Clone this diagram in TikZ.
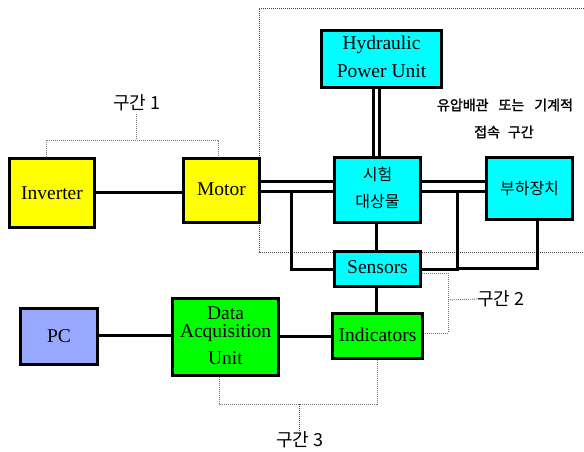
\documentclass[tikz,border=0pt]{standalone}
\usepackage{fontspec}
\setmainfont{Liberation Serif}
\newfontfamily\kr{Noto Sans CJK KR}
\newfontfamily\krb[FakeBold=1.5]{Noto Sans CJK KR}
\usetikzlibrary{calc}
\definecolor{cyanbox}{RGB}{0,255,255}
\definecolor{yellowbox}{RGB}{255,255,0}
\definecolor{greenbox}{RGB}{0,255,0}
\definecolor{pcbox}{RGB}{153,168,255}
\begin{document}
\begin{tikzpicture}[x=1pt,y=-1pt,
  box/.style={draw=black,line width=3pt,inner sep=0pt,align=center,font=\fontsize{19.5}{23}\selectfont},
  wire/.style={line width=3pt,black},
  dots/.style={line width=0.9pt,dash pattern=on 1pt off 1pt,black!75},
  gdots/.style={line width=0.9pt,dash pattern=on 1pt off 1pt,black!55},
  lbl/.style={font=\kr\fontsize{18}{21}\selectfont,inner sep=0pt},
  note/.style={font=\krb\fontsize{14}{16}\selectfont,inner sep=0pt}]
\useasboundingbox (0,0) rectangle (584,452);
% big dotted region
\draw[dots] (584,8) -- (259,8) -- (259,252) -- (584,252);
% boxes
\node[box,fill=yellowbox,minimum width=85pt,minimum height=69pt] (inv) at (52,193) {Inverter};
\node[box,fill=yellowbox,minimum width=76pt,minimum height=64pt] (mot) at (221.5,190.5) {\raisebox{3pt}{Motor}};
\node[box,fill=cyanbox,minimum width=120pt,minimum height=57pt] (hpu) at (381.5,59) {\raisebox{2pt}{\begin{tabular}{@{}c@{}}Hydraulic\\[5pt]Power Unit\end{tabular}}};
\node[box,fill=cyanbox,minimum width=86pt,minimum height=65pt] (test) at (377.5,190) {\kr\fontsize{16}{19}\selectfont\raisebox{8pt}{\begin{tabular}{@{}c@{}}시험\\[8pt]대상물\end{tabular}}};
\node[box,fill=cyanbox,minimum width=86pt,minimum height=62pt] (load) at (529.5,188.5) {\kr\fontsize{16}{19}\selectfont 부하장치};
\node[box,fill=cyanbox,minimum width=86pt,minimum height=35pt] (sens) at (377.5,269) {\raisebox{4pt}{Sensors}};
\node[box,fill=pcbox,minimum width=77pt,minimum height=56pt] (pc) at (59,336.5) {PC};
\node[box,fill=greenbox,minimum width=106pt,minimum height=77pt] (dau) at (225.5,337) {\raisebox{4pt}{\begin{tabular}{@{}c@{}}Data\\[-5pt]Acquisition\\[4pt]Unit\end{tabular}}};
\node[box,fill=greenbox,minimum width=90pt,minimum height=45pt] (ind) at (377.5,336) {\raisebox{2pt}{Indicators}};
% solid connectors
\draw[wire] (inv.east |- 0,192) -- (mot.west |- 0,192);
\draw[wire] (mot.east |- 0,181) -- (test.west |- 0,181);
\draw[wire] (mot.east |- 0,191) -- (test.west |- 0,191);
\draw[wire] (test.east |- 0,181) -- (load.west |- 0,181);
\draw[wire] (test.east |- 0,191) -- (load.west |- 0,191);
\draw[wire] (hpu.south -| 373.5,0) -- (test.north -| 373.5,0);
\draw[wire] (hpu.south -| 379,0) -- (test.north -| 379,0);
\coordinate (jl) at (291,191);
\coordinate (jr) at (457,191);
\coordinate (jb) at (457,268);
\draw[wire] (jl) -- (291,269) -- (sens.west |- 0,269);
\draw[wire] (sens.east |- 0,269) -- (457,269) -- (jr);
\draw[wire] (jb) -- (537,268) -- (load.south -| 537,0);
\draw[wire] (test.south -| 376,0) -- (sens.north -| 376,0);
\draw[wire] (sens.south -| 376,0) -- (ind.north -| 376,0);
\draw[wire] (pc.east |- 0,335) -- (dau.west |- 0,335);
\draw[wire] (dau.east |- 0,336) -- (ind.west |- 0,336);
% label 1
\node[lbl] (l1) at (137,103) {구간 1};
\draw[gdots] (l1.south -| 136,0) ++(0,3) -- (136,140);
\draw[gdots] (inv.north -| 46,0) -- (46,140) -- (218,140) -- (mot.north -| 218,0);
% label 2
\node[lbl,anchor=west] (l2) at (477,299) {구간 2};
\draw[gdots] (sens.east |- 0,273) -- (448,273) -- (448,333) -- (ind.east |- 0,333);
\draw[gdots] (448,300) -- (l2.west) ++(-4,0);
% label 3
\node[lbl] (l3) at (300,440) {구간 3};
\draw[gdots] (dau.south -| 219,0) -- (219,404) -- (377,404) -- (ind.south -| 377,0);
\draw[dots] (299,404) -- (l3.north -| 299,0);
% note
\node[note] (note1) at (505,105) {유압배관\hspace{10pt}또는\hspace{10pt}기계적};
\node[note] (note2) at (504,132) {접속\hspace{8pt}구간};
\end{tikzpicture}
\end{document}
